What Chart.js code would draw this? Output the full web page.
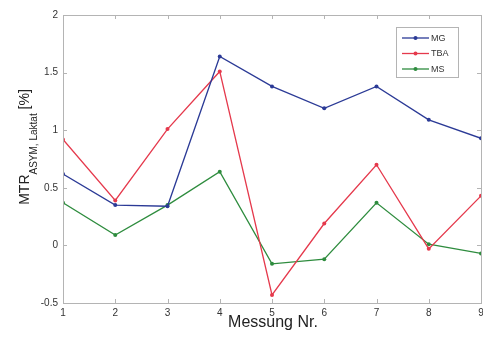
<!DOCTYPE html>
<html>
<head>
<meta charset="utf-8">
<script src="https://cdn.jsdelivr.net/npm/chart.js@4/dist/chart.umd.min.js"></script>
<style>
  html, body { margin: 0; padding: 0; background: #fff; overflow: hidden; }
  #wrap { width: 500px; height: 342px; }
</style>
</head>
<body>
<div id="wrap"><canvas id="chartMtr"></canvas></div>
<script>
const messungen = [1, 2, 3, 4, 5, 6, 7, 8, 9];
const werteMG  = [0.62, 0.35, 0.34, 1.64, 1.38, 1.19, 1.38, 1.09, 0.93];
const werteTBA = [0.92, 0.39, 1.01, 1.51, -0.43, 0.19, 0.70, -0.03, 0.43];
const werteMS  = [0.37, 0.09, 0.35, 0.64, -0.16, -0.12, 0.37, 0.01, -0.07];
const serienNamen = ['MG', 'TBA', 'MS'];
const yTicks = [-0.5, 0, 0.5, 1, 1.5, 2];

const farben = ['#2b3a96', '#e5394c', '#2e8c3e'];
const tickFont = { family: 'Arial, "Liberation Sans", sans-serif', size: 10 };

function toPoints(vals) {
    return messungen.map((m, i) => ({ x: m, y: vals[i] }));
}

// Rahmen, Ticks nach innen, Achsentitel und Legende wie in MATLAB
const matlabPlugin = {
    id: 'matlabFrame',
    afterDraw(chart) {
        const { ctx, chartArea: a, scales } = chart;
        ctx.save();
        ctx.strokeStyle = '#b4b4b4';
        ctx.lineWidth = 1;
        ctx.strokeRect(a.left + 0.5, a.top + 0.5, a.right - a.left, a.bottom - a.top);

        ctx.beginPath();
        messungen.forEach(m => {
            const x = Math.round(scales.x.getPixelForValue(m)) + 0.5;
            ctx.moveTo(x, a.bottom); ctx.lineTo(x, a.bottom - 4);
            ctx.moveTo(x, a.top); ctx.lineTo(x, a.top + 4);
        });
        yTicks.forEach(v => {
            const y = Math.round(scales.y.getPixelForValue(v)) + 0.5;
            ctx.moveTo(a.left, y); ctx.lineTo(a.left + 4, y);
            ctx.moveTo(a.right, y); ctx.lineTo(a.right - 4, y);
        });
        ctx.stroke();

        // x-Titel
        ctx.fillStyle = '#222';
        ctx.font = '16px Arial, "Liberation Sans", sans-serif';
        ctx.textAlign = 'center';
        ctx.textBaseline = 'middle';
        ctx.fillText('Messung Nr.', 273, 323);

        // y-Titel mit Index
        ctx.translate(29, 147);
        ctx.rotate(-Math.PI / 2);
        ctx.textBaseline = 'alphabetic';
        ctx.textAlign = 'left';
        const big = '14px Arial, "Liberation Sans", sans-serif';
        const small = '10px Arial, "Liberation Sans", sans-serif';
        ctx.font = big; const w1 = ctx.measureText('MTR').width;
        ctx.font = small; const w2 = ctx.measureText('ASYM, Laktat').width;
        ctx.font = big; const w3 = ctx.measureText(' [%]').width;
        let x0 = -(w1 + w2 + w3) / 2;
        ctx.font = big; ctx.fillText('MTR', x0, 0);
        ctx.font = small; ctx.fillText('ASYM, Laktat', x0 + w1, 8);
        ctx.font = big; ctx.fillText(' [%]', x0 + w1 + w2, 0);
        ctx.setTransform(1, 0, 0, 1, 0, 0);

        // Legende
        const lx = 396, ly = 27, lw = 62, lh = 50;
        ctx.fillStyle = '#fff';
        ctx.fillRect(lx, ly, lw, lh);
        ctx.strokeStyle = '#b4b4b4';
        ctx.strokeRect(lx + 0.5, ly + 0.5, lw, lh);
        ctx.font = '9px Arial, "Liberation Sans", sans-serif';
        ctx.textBaseline = 'middle';
        chart.data.datasets.forEach((ds, i) => {
            const y = ly + 11 + i * 15.5;
            ctx.strokeStyle = ds.borderColor;
            ctx.lineWidth = 1.3;
            ctx.beginPath(); ctx.moveTo(lx + 6, y); ctx.lineTo(lx + 33, y); ctx.stroke();
            ctx.fillStyle = ds.borderColor;
            ctx.beginPath(); ctx.arc(lx + 19.5, y, 2, 0, Math.PI * 2); ctx.fill();
            ctx.fillStyle = '#333';
            ctx.fillText(ds.label, lx + 35, y + 0.5);
        });
        ctx.restore();
    }
};

new Chart(document.getElementById('chartMtr'), {
    type: 'line',
    data: {
        datasets: [werteMG, werteTBA, werteMS].map((vals, i) => ({
            label: serienNamen[i],
            data: toPoints(vals),
            borderColor: farben[i],
            backgroundColor: farben[i],
            borderWidth: 1.3,
            pointRadius: 2,
            pointBorderWidth: 0,
            tension: 0
        }))
    },
    options: {
        responsive: true,
        maintainAspectRatio: false,
        animation: false,
        layout: { padding: { left: 0, top: 15, right: 19, bottom: 0 } },
        plugins: { legend: { display: false }, tooltip: { enabled: false } },
        scales: {
            x: {
                type: 'linear', min: 1, max: 9,
                afterBuildTicks: s => { s.ticks = messungen.map(v => ({ value: v })); },
                afterFit: s => { s.height = 39; },
                grid: { display: false, drawTicks: false },
                border: { display: false },
                ticks: { color: '#333', font: tickFont, padding: 4, callback: v => String(v) }
            },
            y: {
                min: -0.5, max: 2,
                afterBuildTicks: s => { s.ticks = yTicks.map(v => ({ value: v })); },
                afterFit: s => { s.width = 63; },
                grid: { display: false, drawTicks: false },
                border: { display: false },
                ticks: { color: '#333', font: tickFont, padding: 5, callback: v => String(v) }
            }
        }
    },
    plugins: [matlabPlugin]
});
</script>
</body>
</html>
